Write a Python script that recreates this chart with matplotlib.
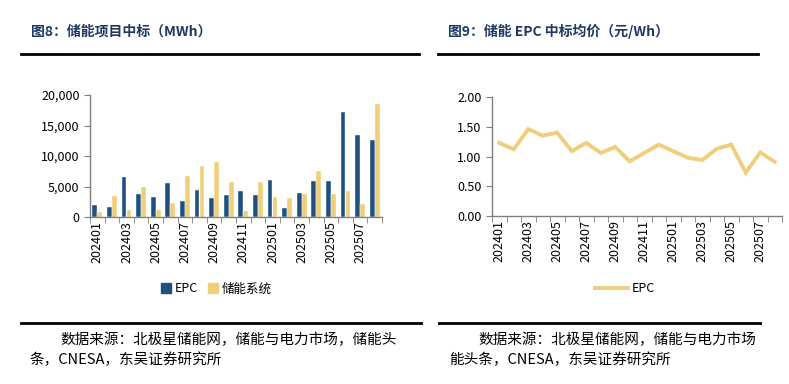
import matplotlib.pyplot as plt
from matplotlib.lines import Line2D
from matplotlib.patches import Patch
import numpy as np

plt.rcParams['font.family'] = ['Noto Sans CJK SC', 'DejaVu Sans']

months = ['202401', '202402', '202403', '202404', '202405', '202406', '202407',
          '202408', '202409', '202410', '202411', '202412', '202501', '202502',
          '202503', '202504', '202505', '202506', '202507', '202508']
epc_mwh = [2000, 1700, 6600, 3700, 3200, 5500, 2600, 4500, 3100, 3600,
           4200, 3600, 6100, 1500, 3900, 5900, 5900, 17200, 13400, 12700]
system_mwh = [800, 3400, 1200, 5000, 1200, 2300, 6800, 8400, 9000, 5800,
              1000, 5800, 3200, 3100, 3700, 7600, 3700, 4300, 2200, 18500]
epc_price = [1.23, 1.12, 1.46, 1.35, 1.40, 1.09, 1.23, 1.06, 1.16, 0.92,
             1.06, 1.20, 1.09, 0.98, 0.94, 1.13, 1.20, 0.73, 1.07, 0.91]

c_epc = '#1F5080'
c_sys = '#EFCF7C'
c_title = '#1F3864'
c_axis = '#7F7F7F'

W, H = 789, 384
fig = plt.figure(figsize=(W / 100, H / 100), dpi=100)
fig.set_facecolor('white')


def box(x0, y0, x1, y1):
    return [x0 / W, 1 - y1 / H, (x1 - x0) / W, (y1 - y0) / H]


def style(ax):
    n = len(months)
    x = np.arange(n)
    ax.set_xlim(-0.5, n - 0.5)
    ax.set_xticks(x[::2])
    ax.set_xticklabels(months[::2], rotation=90, fontsize=9)
    ax.set_xticks(np.arange(n + 1) - 0.5, minor=True)
    ax.tick_params(axis='x', which='major', length=0, pad=3)
    ax.tick_params(axis='x', which='minor', length=4, color=c_axis, direction='out')
    ax.tick_params(axis='y', length=4, color=c_axis, labelsize=9)
    for s in ['top', 'right']:
        ax.spines[s].set_visible(False)
    for s in ['left', 'bottom']:
        ax.spines[s].set_color(c_axis)
        ax.spines[s].set_linewidth(1.0)


# left: bar chart
ax1 = fig.add_axes(box(90, 95, 382, 217))
x = np.arange(len(months))
ax1.bar(x - 0.17, epc_mwh, width=0.32, color=c_epc, edgecolor='white', linewidth=0.3)
ax1.bar(x + 0.17, system_mwh, width=0.32, color=c_sys, edgecolor='white', linewidth=0.3)
ax1.set_ylim(0, 20000)
ax1.set_yticks([0, 5000, 10000, 15000, 20000])
ax1.set_yticklabels(['0', '5,000', '10,000', '15,000', '20,000'])
style(ax1)
fig.legend(handles=[Patch(color=c_epc, label='EPC'), Patch(color=c_sys, label='储能系统')],
           loc='center', bbox_to_anchor=(216 / W, 1 - 289 / H), ncol=2, frameon=False,
           fontsize=9, handlelength=0.8, handleheight=0.8, handletextpad=0.3,
           columnspacing=0.8)

# right: line chart
ax2 = fig.add_axes(box(492, 97, 782, 216))
ax2.plot(x, epc_price, color=c_sys, linewidth=2.8, solid_joinstyle='miter')
ax2.set_ylim(0, 2.0)
ax2.set_yticks([0, 0.5, 1.0, 1.5, 2.0])
ax2.set_yticklabels(['0.00', '0.50', '1.00', '1.50', '2.00'])
style(ax2)
fig.legend(handles=[Line2D([], [], color=c_sys, linewidth=2.8, label='EPC')],
           loc='center', bbox_to_anchor=(625 / W, 1 - 289 / H), frameon=False,
           fontsize=9, handlelength=2.6, handletextpad=0.3)

# titles and rules
fig.text(31 / W, 1 - 31 / H, '图8：储能项目中标（MWh）', fontsize=10, fontweight='bold',
         color=c_title, va='center', ha='left')
fig.text(448 / W, 1 - 31 / H, '图9：储能 EPC 中标均价（元/Wh）', fontsize=10, fontweight='bold',
         color=c_title, va='center', ha='left')
for (a, b) in [(21, 419), (438, 758)]:
    fig.add_artist(Line2D([a / W, b / W], [1 - 54 / H] * 2, color='black', linewidth=2))
for (a, b) in [(21, 421), (439, 760)]:
    fig.add_artist(Line2D([a / W, b / W], [1 - 323 / H] * 2, color='black', linewidth=2))

src = dict(fontsize=10.5, va='center', ha='left')
fig.text(60 / W, 1 - 340 / H, '数据来源：北极星储能网，储能与电力市场，储能头', **src)
fig.text(30 / W, 1 - 360 / H, '条，CNESA，东吴证券研究所', **src)
fig.text(478 / W, 1 - 340 / H, '数据来源：北极星储能网，储能与电力市场', **src)
fig.text(449 / W, 1 - 360 / H, '能头条，CNESA，东吴证券研究所', **src)

fig.savefig('out.png', dpi=100)
